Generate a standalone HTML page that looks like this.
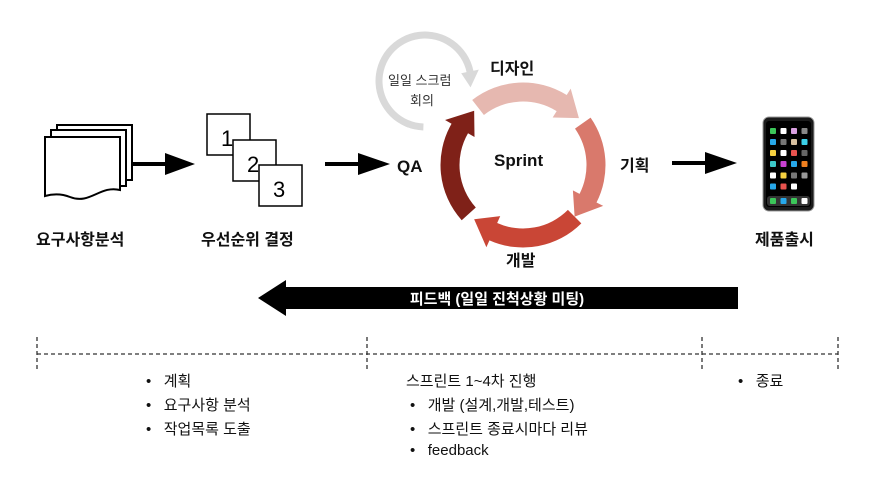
<!DOCTYPE html>
<html><head><meta charset="utf-8"><style>
body{margin:0;background:#fff;width:874px;height:482px;overflow:hidden;font-family:"Liberation Sans","Noto Sans CJK KR",sans-serif}
svg{position:absolute;left:0;top:0}
.t{position:absolute;white-space:nowrap;color:#111}
.b{font-weight:bold;font-size:16px}
.l{font-size:15px;color:#111}
</style></head><body>
<svg id="s" width="874" height="482" viewBox="0 0 874 482">
 <g fill="#fff" stroke="#000" stroke-width="2">
  <path d="M57 125 H132 V180 H57 Z"/>
  <path d="M51 130 H126 V186 H51 Z"/>
  <path d="M45 137 H120 V190 C100 185 90 205 70 197 C60 193 52 194 45 196 Z"/>
 </g>
 <g stroke="#000" stroke-width="4"><line x1="132" y1="164" x2="170" y2="164"/><line x1="325" y1="164" x2="365" y2="164"/><line x1="672" y1="163" x2="710" y2="163"/></g>
 <g fill="#000"><polygon points="165,153 195,164 165,175"/><polygon points="358,153 390,164 358,175"/><polygon points="705,152 737,163 705,174"/></g>
 <g fill="#fff" stroke="#000" stroke-width="1.5">
  <rect x="207" y="114" width="43" height="41"/>
  <rect x="233" y="140" width="43" height="41"/>
  <rect x="259" y="165" width="43" height="41"/>
 </g>
 <g font-family="Liberation Sans" font-size="22" fill="#000">
  <text x="221" y="146">1</text><text x="247" y="172">2</text><text x="273" y="197">3</text>
 </g>
 <polygon points="738,287 286,287 286,280 258,298 286,316 286,309 738,309" fill="#000"/>
 <text x="497" y="304" fill="#fff" font-size="15" font-weight="bold" text-anchor="middle" font-family="Liberation Sans, Noto Sans CJK KR, sans-serif">피드백 (일일 진척상황 미팅)</text>
 <g stroke="#333" stroke-width="1.3" stroke-dasharray="4,3" fill="none">
  <line x1="37" y1="354" x2="838" y2="354"/>
  <line x1="37" y1="337" x2="37" y2="370"/>
  <line x1="367" y1="337" x2="367" y2="370"/>
  <line x1="702" y1="337" x2="702" y2="370"/>
  <line x1="838" y1="337" x2="838" y2="370"/>
 </g>
 <rect x="763" y="117" width="51" height="94" rx="6" fill="#1b1b1b" stroke="#999" stroke-width="1"/>
 <rect x="766" y="121" width="45" height="86" rx="3" fill="#000"/>
 <g id="ph"></g>
 <g id="ring"></g>
</svg>
<div class="t b" style="left:36px;top:226px">요구사항분석</div>
<div class="t b" style="left:201px;top:226px">우선순위 결정</div>
<div class="t b" style="left:397px;top:157px;font-size:17px">QA</div>
<div class="t b" style="left:494px;top:151px;font-size:17px">Sprint</div>
<div class="t b" style="left:490px;top:55px">디자인</div>
<div class="t b" style="left:620px;top:152px">기획</div>
<div class="t b" style="left:506px;top:247px">개발</div>
<div class="t b" style="left:755px;top:226px">제품출시</div>
<div class="t" style="left:388px;top:70px;font-size:13px;color:#333">일일 스크럼</div>
<div class="t" style="left:410px;top:90px;font-size:13px;color:#333">회의</div>
<div class="t l" style="left:146px;top:370px">•&nbsp;&nbsp; 계획</div>
<div class="t l" style="left:146px;top:394px">•&nbsp;&nbsp; 요구사항 분석</div>
<div class="t l" style="left:146px;top:418px">•&nbsp;&nbsp; 작업목록 도출</div>
<div class="t l" style="left:406px;top:370px">스프린트 1~4차 진행</div>
<div class="t l" style="left:410px;top:394px">•&nbsp;&nbsp; 개발 (설계,개발,테스트)</div>
<div class="t l" style="left:410px;top:418px">•&nbsp;&nbsp; 스프린트 종료시마다 리뷰</div>
<div class="t l" style="left:410px;top:442px">•&nbsp;&nbsp; feedback</div>
<div class="t l" style="left:738px;top:370px">•&nbsp;&nbsp; 종료</div>
<script>
var NS="http://www.w3.org/2000/svg";
function rad(d){return d*Math.PI/180}
function pt(cx,cy,r,a){return [cx+r*Math.cos(rad(a)),cy+r*Math.sin(rad(a))]}
function arrow(g,cx,cy,r,w,a0,a1,hl,hw,col){
 var ri=r-w/2,ro=r+w/2,ab=a1-hl,lg=(ab-a0)>180?1:0;
 var p1=pt(cx,cy,ro,a0),p2=pt(cx,cy,ro,ab),p3=pt(cx,cy,r+hw,ab),tip=pt(cx,cy,r,a1),p4=pt(cx,cy,r-hw,ab),p5=pt(cx,cy,ri,ab),p6=pt(cx,cy,ri,a0);
 var d="M"+p1+" A"+ro+" "+ro+" 0 "+lg+" 1 "+p2+" L"+p3+" L"+tip+" L"+p4+" L"+p5+" A"+ri+" "+ri+" 0 "+lg+" 0 "+p6+" Z";
 var p=document.createElementNS(NS,"path");p.setAttribute("d",d);p.setAttribute("fill",col);g.appendChild(p);
}
var g=document.getElementById("ring");
arrow(g,425,81,46,7,92,368,20,9,"#d9d9d9");
var cx=523,cy=165,r=73,w=19;
arrow(g,cx,cy,r,w,-128,-40,18,17,"#e6b8b0");
arrow(g,cx,cy,r,w,-35,45,18,17,"#d9796c");
arrow(g,cx,cy,r,w,45,132,18,17,"#c94636");
arrow(g,cx,cy,r,w,138,228,18,17,"#7f2118");
var cols=[["#3cc75a","#fff","#d9a0e0","#888"],["#27a8ea","#777","#d8c0a0","#3bd0e8"],["#f5d040","#fff","#e8534f","#666"],["#3cc8c8","#c840d0","#27a8ea","#f08020"],["#fff","#f5d040","#777","#999"],["#27a8ea","#e8534f","#fff",null]];
var ph=document.getElementById("ph"),xs=[770,780.5,791,801.5],ys=[128,139,150,161,172.5,183.5];
cols.forEach(function(row,i){row.forEach(function(c,j){if(!c)return;var q=document.createElementNS(NS,"rect");q.setAttribute("x",xs[j]);q.setAttribute("y",ys[i]);q.setAttribute("width",6);q.setAttribute("height",6);q.setAttribute("rx",1);q.setAttribute("fill",c);ph.appendChild(q);});});
var dk=document.createElementNS(NS,"rect");dk.setAttribute("x",767);dk.setAttribute("y",196);dk.setAttribute("width",43);dk.setAttribute("height",10);dk.setAttribute("rx",3);dk.setAttribute("fill","#333");ph.appendChild(dk);
["#3cc75a","#27a8ea","#3cc75a","#fff"].forEach(function(c,j){var q=document.createElementNS(NS,"rect");q.setAttribute("x",xs[j]);q.setAttribute("y",198);q.setAttribute("width",6);q.setAttribute("height",6);q.setAttribute("rx",1);q.setAttribute("fill",c);ph.appendChild(q);});
</script>
</body></html>
